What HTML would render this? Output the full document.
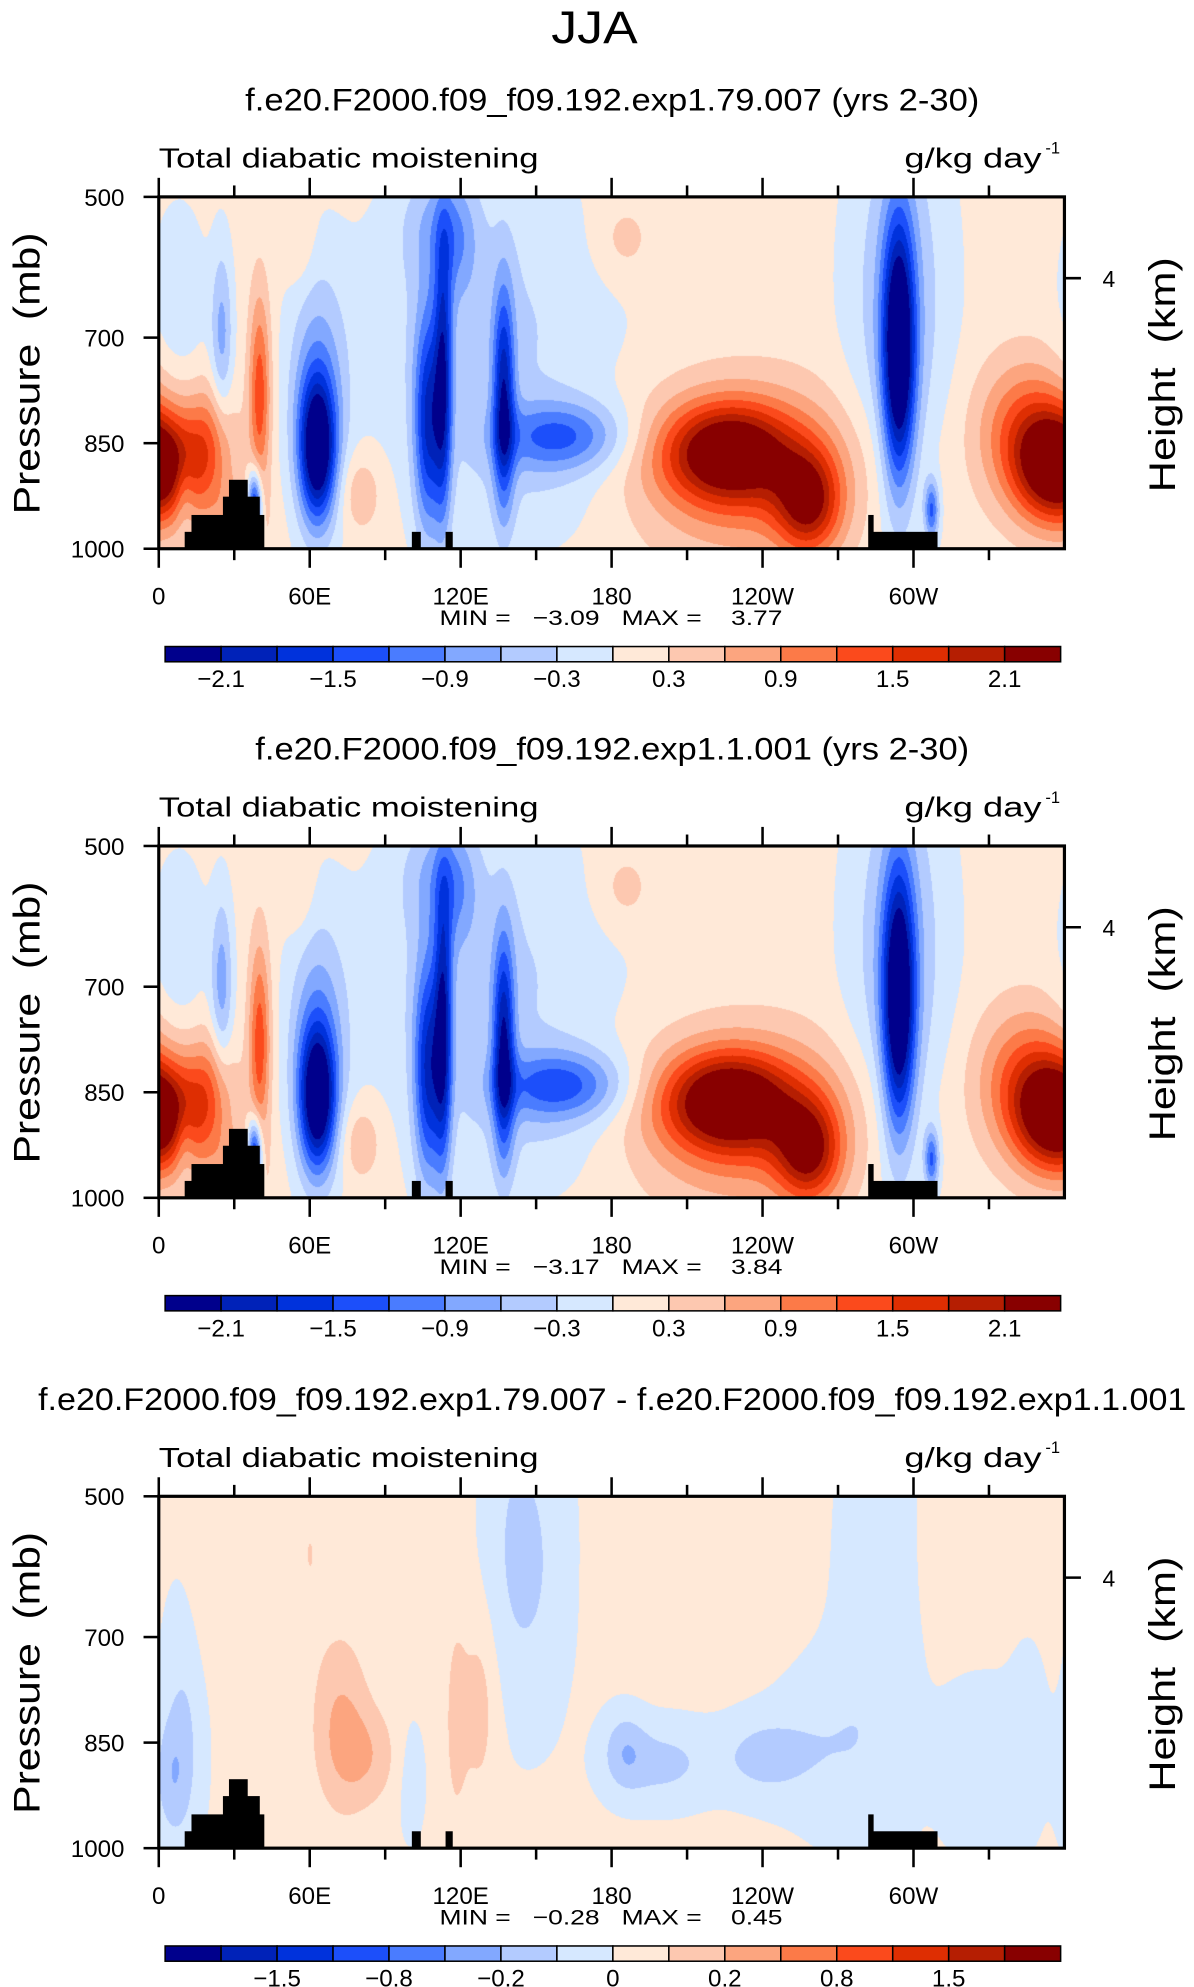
<!DOCTYPE html>
<html><head><meta charset="utf-8">
<style>
html,body{margin:0;padding:0;background:#fff;}
#wrap{position:relative;width:1194px;height:1987px;overflow:hidden;}
canvas{position:absolute;}
svg{position:absolute;left:0;top:0;}
text{font-family:"Liberation Sans",sans-serif;fill:#000;white-space:pre;}
</style></head>
<body>
<div id="wrap">
<canvas id="c0"></canvas>
<canvas id="c1"></canvas>
<canvas id="c2"></canvas>
<svg id="s" width="1194" height="1987" viewBox="0 0 940 1564.3"></svg>
</div>
<script>
// ---------- data ----------
const panelTitles = ["f.e20.F2000.f09_f09.192.exp1.79.007 (yrs 2-30)","f.e20.F2000.f09_f09.192.exp1.1.001 (yrs 2-30)","f.e20.F2000.f09_f09.192.exp1.79.007 - f.e20.F2000.f09_f09.192.exp1.1.001"];
const minVals = ["-3.09","-3.17","-0.28"];
const maxVals = ["3.77","3.84","0.45"];
const pressureTicks = [500,700,850,1000];
const lonTicks = [0,60,120,180,240,300];
const lonLabels = ["0","60E","120E","180","120W","60W"];
const levelsMain = [-2.1,-1.8,-1.5,-1.2,-0.9,-0.6,-0.3,0,0.3,0.6,0.9,1.2,1.5,1.8,2.1];
const labelsMain = ["-2.1","-1.5","-0.9","-0.3","0.3","0.9","1.5","2.1"];
const levelsDiff = [-2,-1.5,-1.2,-0.8,-0.5,-0.2,-0.1,0,0.1,0.2,0.4,0.8,1.2,1.5,2];
const labelsDiff = ["-1.5","-0.8","-0.2","0","0.2","0.8","1.5"];
const colors = ["#00008c","#0022b8","#0032dc","#1c4ffa","#4a7cff","#82a8ff","#b3cbff","#d6e8ff","#ffe9d8","#fdc8b0","#fca57f","#fc7a48","#fb4a1c","#de2e02","#b51e02","#880000"];
// terrain: lon start, lon end, top pressure
const terrainLon0 = [10.3,13,25.5,27.9,35.2,40,100.6,114,282,284];
const terrainLon1 = [13,25.5,27.9,35.2,40,41.8,104,116.7,284,309.4];
const terrainTop  = [976,952,926,902,926,952,976,976,952,976];
// blob features: centre lon, centre pressure, amplitude, lon width, p width
const base1 = 0.12;
const lon1 = [358,345,20,40,38,25,8,63,63,107,113,137,160,130,110,226,258,235,294,294,56,185,80,307,10,30,150,118];
const p1   = [885,830,850,780,940,700,650,860,780,820,760,790,840,700,540,862,935,890,720,650,560,560,920,945,915,960,920,560];
const a1   = [2.6,1.1,0.9,1.3,-2.2,-0.8,-0.35,-2.4,-0.9,-1.7,-1.6,-1.8,-1.2,-0.5,-0.5,2.0,1.7,1.0,-2.7,-0.7,0.3,0.35,0.5,-1.3,-0.5,0.5,-0.2,-0.5];
const sl1  = [12,14,7,3,2,3,8,5,8,4,2.5,3,18,35,10,18,9,32,4.5,14,4,8,6,2,3,8,25,6];
const sp1  = [55,70,60,100,35,90,100,70,120,110,140,110,35,160,60,48,50,85,130,200,50,40,40,30,40,40,60,60];
const base2 = 0.12;
const lon2 = lon1.slice();
const p2   = p1.slice();
const a2   = [2.6,1.1,0.9,1.3,-2.2,-0.85,-0.35,-2.4,-0.9,-1.7,-1.7,-1.9,-1.3,-0.5,-0.5,2.1,1.7,1.0,-2.6,-0.7,0.3,0.35,0.5,-1.3,-0.5,0.5,-0.2,-0.5];
const sl2  = sl1.slice();
const sp2  = sp1.slice();
const base3 = 0.02;
const lon3 = [72,83,118,127,10,5,200,240,185,150,285,325,40,100,265,345,60,140,230,190,320,20];
const p3   = [820,870,820,800,820,900,880,870,860,600,700,880,720,900,850,850,580,560,600,620,600,620];
const a3   = [0.18,0.14,0.12,0.13,-0.12,-0.15,-0.15,-0.15,-0.15,-0.1,-0.08,-0.11,0.06,-0.08,-0.09,-0.06,0.08,-0.08,0.06,0.05,0.05,0.06];
const sl3  = [8,9,3,5,6,5,14,12,6,10,12,10,6,4,15,6,4,8,15,10,10,6];
const sp3  = [90,50,100,90,120,60,40,40,40,150,250,80,120,60,80,100,70,150,80,80,80,100];

// ---------- layout (display units; scale 1194/940) ----------
const K = 1194/940;
const PX0 = 125, PX1 = 838, PY0 = 155, PY1 = 432;
const offs = [0,511,1023];
const xS = lon => PX0 + (lon/360)*(PX1-PX0);
const yS = (p,o) => PY0 + o + (p-500)/500*(PY1-PY0);
const NS = "http://www.w3.org/2000/svg";
const svg = document.getElementById('s');
function el(tag, attrs, parent){ const e=document.createElementNS(NS,tag); for(const k in attrs) e.setAttribute(k,attrs[k]); (parent||svg).appendChild(e); return e; }
function txt(s, attrs, parent){ const e=el('text',attrs,parent); e.textContent=s; return e; }

const t0 = txt("JJA",{x:468,y:34,'font-size':36,'text-anchor':'middle','font-weight':'300',textLength:68,lengthAdjust:'spacingAndGlyphs'});



const fields = [[base1,lon1,p1,a1,sl1,sp1],[base2,lon2,p2,a2,sl2,sp2],[base3,lon3,p3,a3,sl3,sp3]];
function fieldAt(f, lon, p){
  let v=f[0]; const L=f[1],P=f[2],A=f[3],SL=f[4],SP=f[5];
  for(let i=0;i<L.length;i++){
    let d=((lon-L[i]+540)%360)-180; const dp=p-P[i];
    v+=A[i]*Math.exp(-0.5*(d*d/(SL[i]*SL[i])+dp*dp/(SP[i]*SP[i])));
  }
  return v;
}
function levelIndex(v, lev){ let k=0; while(k<lev.length && v>=lev[k]) k++; return k; }

for(let pi=0;pi<3;pi++){
  const o=offs[pi];
  const lev = pi<2?levelsMain:levelsDiff;
  const cv=document.getElementById('c'+pi);
  const W=Math.round((PX1-PX0)*K), H=Math.round((PY1-PY0)*K);
  cv.width=W; cv.height=H;
  cv.style.left=(PX0*K)+'px'; cv.style.top=((PY0+o)*K)+'px';
  const ctx=cv.getContext('2d');
  const img=ctx.createImageData(W,H);
  const rgb=colors.map(c=>[parseInt(c.substr(1,2),16),parseInt(c.substr(3,2),16),parseInt(c.substr(5,2),16)]);
  for(let j=0;j<H;j++){
    const p=500+500*(j+0.5)/H;
    for(let i=0;i<W;i++){
      const lon=360*(i+0.5)/W;
      const c=rgb[levelIndex(fieldAt(fields[pi],lon,p),lev)];
      const q=(j*W+i)*4; img.data[q]=c[0];img.data[q+1]=c[1];img.data[q+2]=c[2];img.data[q+3]=255;
    }
  }
  ctx.putImageData(img,0,0);

  const g=el('g',{});
  
  
  for(let i=0;i<terrainLon0.length;i++){
    const r=el('rect',{x:xS(terrainLon0[i]),y:yS(terrainTop[i],o),width:xS(terrainLon1[i])-xS(terrainLon0[i])+0.3,height:yS(1000,o)-yS(terrainTop[i],o),fill:'#000'},g);
    
    
  }
  const tt=txt(panelTitles[pi],{x:482,y:87+o,'font-size':25,'text-anchor':'middle',textLength:pi<2?(pi==0?578:562):904,lengthAdjust:'spacingAndGlyphs'},g);
  
  
  const lt=txt("Total diabatic moistening",{x:125,y:132+o,'font-size':22,textLength:299,lengthAdjust:'spacingAndGlyphs'},g);
  
  
  const ut=txt("g/kg day",{x:712,y:132+o,'font-size':22,textLength:108,lengthAdjust:'spacingAndGlyphs'},g);
  
  
  txt("-1",{x:823,y:121+o,'font-size':13},g);
  const fr=el('rect',{x:PX0,y:PY0+o,width:PX1-PX0,height:PY1-PY0,fill:'none',stroke:'#000','stroke-width':2.5},g);
  
  
  pressureTicks.forEach(p=>{
    el('line',{x1:PX0-12,x2:PX0,y1:yS(p,o),y2:yS(p,o),stroke:'#000','stroke-width':2},g);
    const l=txt(String(p),{x:98,y:yS(p,o)+7,'font-size':19,'text-anchor':'end'},g);
    
    
  });
  for(let lon=0;lon<360;lon+=30){
    const major=lon%60===0, L=major?15:9;
    el('line',{x1:xS(lon),x2:xS(lon),y1:PY1+o,y2:PY1+o+L,stroke:'#000','stroke-width':2},g);
    el('line',{x1:xS(lon),x2:xS(lon),y1:PY0+o,y2:PY0+o-L,stroke:'#000','stroke-width':2},g);
  }
  lonTicks.forEach((lon,i)=>{
    const l=txt(lonLabels[i],{x:xS(lon),y:476+o,'font-size':19,'text-anchor':'middle'},g);
    
    
  });
  el('line',{x1:PX1,x2:PX1+13,y1:219+o,y2:219+o,stroke:'#000','stroke-width':2},g);
  txt("4",{x:868,y:226+o,'font-size':18},g);
  const yt=txt("Pressure  (mb)",{x:0,y:0,'font-size':29,'text-anchor':'middle',transform:`translate(31,${294+o}) rotate(-90)`,textLength:222,lengthAdjust:'spacingAndGlyphs'},g);
  
  
  const ht=txt("Height  (km)",{x:0,y:0,'font-size':29,'text-anchor':'middle',transform:`translate(925,${295+o}) rotate(-90)`,textLength:185,lengthAdjust:'spacingAndGlyphs'},g);
  
  
  const mm=txt(`MIN =   ${minVals[pi].replace('-','\u2212')}   MAX =    ${maxVals[pi]}`,{x:346,y:492+o,'font-size':17,textLength:270,lengthAdjust:'spacingAndGlyphs'},g);
  
  
  const cb0=130, cb1=835, cy=509+o, bw=(cb1-cb0)/16;
  colors.forEach((c,k)=>{
    const r=el('rect',{x:cb0+k*bw,y:cy,width:bw,height:12,fill:c,stroke:'#000','stroke-width':1.2},g);
    
    
  });
  const labs=pi<2?labelsMain:labelsDiff;
  const start=pi<2?1:2;
  labs.forEach((s,i)=>{
    const l=txt(s.replace('-','\u2212'),{x:cb0+(start+i*2)*bw,y:cy+32,'font-size':19,'text-anchor':'middle'},g);
    
    
  });
}
</script>
</body></html>
